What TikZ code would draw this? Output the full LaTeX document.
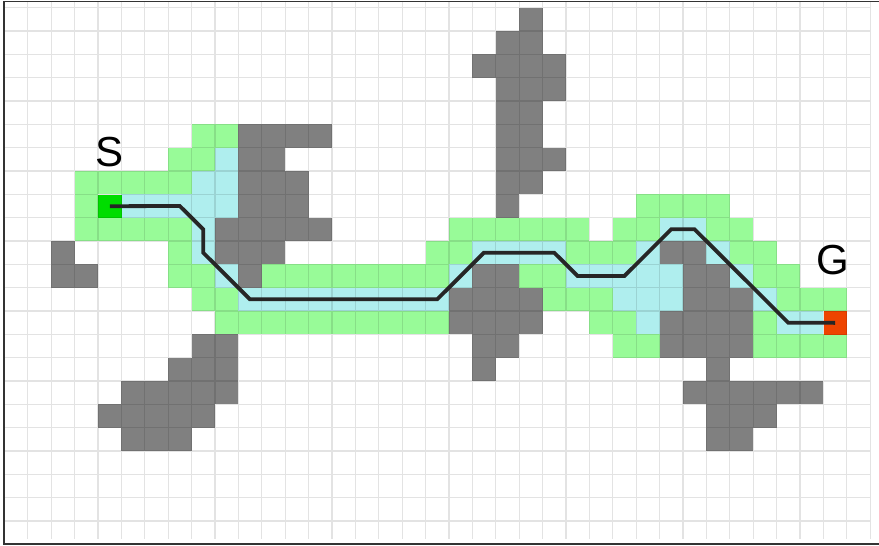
\documentclass[tikz,border=0pt]{standalone}
\usepackage{fontspec}
\setmainfont{Liberation Sans}
\usepackage{tikz}
\definecolor{openfill}{HTML}{98FB98}
\definecolor{closedfill}{HTML}{AFEEEE}
\definecolor{wallfill}{HTML}{808080}
\definecolor{startfill}{HTML}{00DD00}
\definecolor{goalfill}{HTML}{EE4400}
\definecolor{routeline}{HTML}{262626}

\begin{document}
\begin{tikzpicture}[
  x=23.4pt, y=-23.33pt,
  wall/.style={fill=wallfill},
  opencell/.style={fill=openfill},
  closedcell/.style={fill=closedfill},
  endcell/.style={minimum width=23.4pt, minimum height=23.33pt, inner sep=0pt, anchor=north west},
  gridline/.style={draw=black, opacity=0.11, line width=1.2pt},
  bordline/.style={draw=black!80, line width=1.6pt},
  route/.style={draw=routeline, line width=3.8pt, line join=miter},
  lab/.style={font=\fontsize{42}{48}\selectfont, inner sep=0pt}
]
\fill[white] (-0.184,-0.33) rectangle (37.38,23.07);
\useasboundingbox (-0.184,-0.33) rectangle (37.38,23.07);
% ----- obstacles -----
\foreach \r/\a/\b in {0/22/22, 1/21/22, 2/20/23, 3/21/23, 4/21/22, 5/21/22, 6/21/23, 7/21/22, 8/21/21,
  5/10/13, 6/10/11, 7/10/12, 8/10/12, 9/9/13, 10/9/11, 11/10/10,
  10/2/2, 11/2/3,
  14/8/9, 15/7/9, 16/5/9, 17/4/8, 18/5/7,
  11/20/21, 12/19/22, 13/19/22, 14/20/21, 15/20/20,
  10/28/29, 11/29/30, 12/29/31, 13/28/31, 14/28/31, 15/30/30, 16/29/34, 17/30/32, 18/30/31}
  {\fill[wall] (\a,\r) rectangle (\b+1,\r+1);}
% ----- open list -----
\foreach \r/\a/\b in {5/8/9, 6/7/8, 7/3/7, 8/3/3, 8/27/30,
  9/3/7, 9/19/24, 9/26/27, 9/30/31,
  10/7/7, 10/18/19, 10/24/26, 10/31/32,
  11/7/8, 11/11/18, 11/22/23, 11/32/33,
  12/8/9, 12/23/25, 12/33/35,
  13/9/18, 13/25/26, 13/32/32,
  14/26/27, 14/32/35}
  {\fill[opencell] (\a,\r) rectangle (\b+1,\r+1);}
% ----- closed list -----
\foreach \r/\a/\b in {6/9/9, 7/8/9, 8/5/9,
  9/8/8, 9/28/29,
  10/8/8, 10/20/23, 10/27/27, 10/30/30,
  11/9/9, 11/19/19, 11/24/28, 11/31/31,
  12/10/18, 12/26/28, 12/32/32,
  13/27/27, 13/33/34}
  {\fill[closedcell] (\a,\r) rectangle (\b+1,\r+1);}
% ----- start and goal -----
\node[endcell, fill=startfill] (start) at (4,8) {};
\node[endcell, fill=goalfill] (goal) at (35,13) {};
% ----- grid -----
\draw[gridline] foreach \i in {0,...,37} {(\i,-0.26) -- (\i,22.77)}
                foreach \j in {0,...,22} {(0,\j) -- (37,\j)};
% ----- route -----
\draw[route] (start.center) -- (7.5,8.5) -- (8.5,9.5) -- (8.5,10.5) -- (10.5,12.5) -- (18.5,12.5)
  -- (20.5,10.5) -- (23.5,10.5) -- (24.5,11.5) -- (26.5,11.5) -- (28.5,9.5) -- (29.5,9.5)
  -- (33.5,13.5) -- (goal.center);
\node[lab] (slabel) at (4.5,6.2) {S};
\node[lab] (glabel) at (35.4,10.8) {G};
% ----- frame -----
\draw[bordline] (37.38,-0.26) -- (-0.02,-0.26) -- (-0.02,22.99) -- (37.38,22.99);
\end{tikzpicture}
\end{document}
